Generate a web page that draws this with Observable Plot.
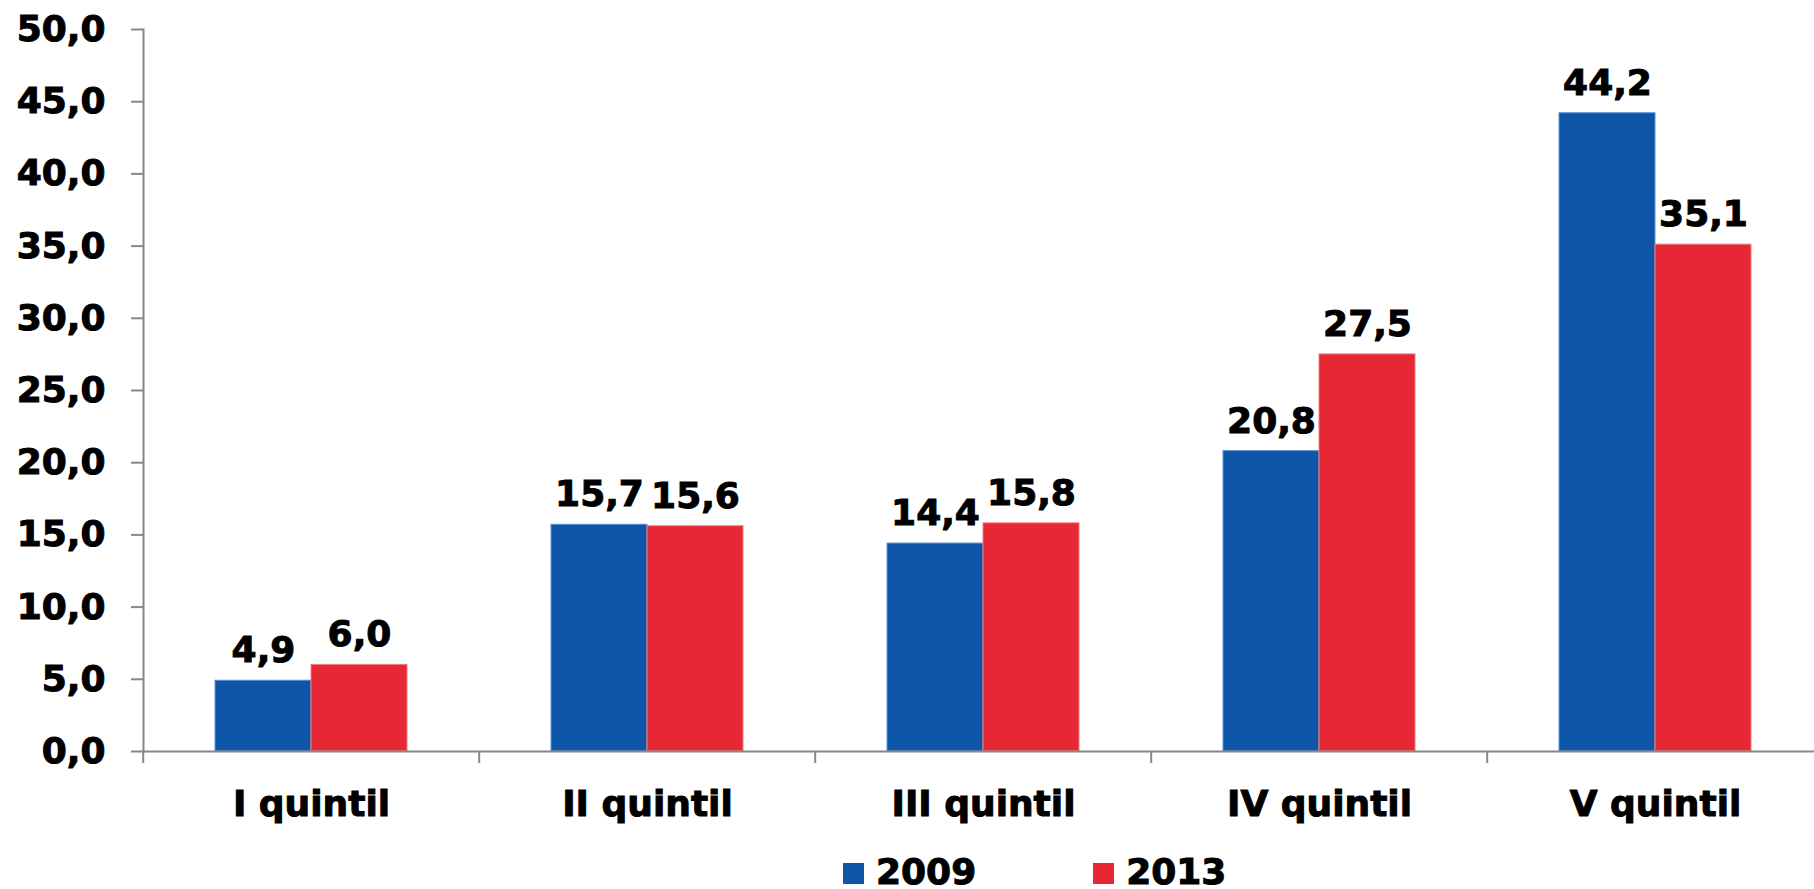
<!DOCTYPE html>
<html>
<head>
<meta charset="utf-8">
<script src="https://cdn.jsdelivr.net/npm/d3@7"></script>
<script src="https://cdn.jsdelivr.net/npm/@observablehq/plot@0.6"></script>
<style>
  html, body { margin: 0; padding: 0; overflow: hidden; background: #fff; }
  #chart svg { display: block; max-width: none !important; }
  #chart svg text { stroke: #000; stroke-width: 1px; }
  .legend { font-family: "DejaVu Sans", Verdana, sans-serif; font-weight: bold; font-size: 36px; line-height: 32px; color: #000; padding-left: 843px; padding-top: 4px; white-space: nowrap; -webkit-text-stroke: 1px #000; }
  .legend span.item { display: inline-block; margin-right: 117px; }
  .legend span.sw { display: inline-block; width: 21px; height: 21px; margin-right: 12px; vertical-align: baseline; -webkit-text-stroke: 0; }
</style>
</head>
<body>
<div id="chart"></div>
<div class="legend" id="legend"></div>
<script>
const categories = ["I quintil", "II quintil", "III quintil", "IV quintil", "V quintil"];
const years = ["2009", "2013"];
const values2009 = [4.9, 15.7, 14.4, 20.8, 44.2];
const values2013 = [6.0, 15.6, 15.8, 27.5, 35.1];
const yTicks = [0, 5, 10, 15, 20, 25, 30, 35, 40, 45, 50];
const colors = ["#0F56A8", "#E62734"];
const edgeColors = ["#5B8FD6", "#F27A83"];

const rows = [];
categories.forEach((c, i) => {
  rows.push({category: c, year: years[0], value: values2009[i]});
  rows.push({category: c, year: years[1], value: values2013[i]});
});

const W = 1824, H = 852, ML = 141, MR = 0, MT = 29, MB = 101;
const band = (W - ML - MR) / categories.length;
const fmt = v => v.toFixed(1).replace(".", ",");
const font = "DejaVu Sans, Verdana, sans-serif";
const gray = "#878787";

const plot = Plot.plot({
  width: W, height: H,
  marginLeft: ML, marginRight: MR, marginTop: MT, marginBottom: MB,
  style: {fontFamily: font, fontSize: "36px", fontWeight: "bold", color: "#000", background: "#fff", maxWidth: "none"},
  fx: {domain: categories, padding: 0, axis: null, label: null},
  x: {domain: years, paddingInner: 0, paddingOuter: 0.75, axis: null, label: null},
  y: {domain: [0, 50], axis: null, label: null},
  color: {domain: years, range: colors},
  marks: [
    Plot.barY(rows, {fx: "category", x: "year", y: "value", fill: "year",
      stroke: d => edgeColors[years.indexOf(d.year)], strokeWidth: 1}),
    Plot.text(rows, {fx: "category", x: "year", y: "value", text: d => fmt(d.value),
      dy: -30, fontSize: 36, fontWeight: "bold", fill: "#000"}),
    Plot.ruleY([0], {stroke: gray, strokeWidth: 2}),
    Plot.frame({anchor: "left", facetAnchor: "left", stroke: gray, strokeWidth: 2}),
    Plot.axisY({ticks: yTicks, tickSize: 12, tickPadding: 26, tickFormat: fmt, label: null,
      stroke: gray, strokeWidth: 2, fill: "#000", fontSize: 36, fontWeight: "bold"}),
    Plot.axisFx({anchor: "bottom", tickSize: 12, tickFormat: () => "", dx: -band / 2, label: null,
      stroke: gray, strokeWidth: 2}),
    Plot.axisFx({anchor: "bottom", tickSize: 0, tickPadding: 39, label: null,
      fill: "#000", fontSize: 36, fontWeight: "bold"})
  ]
});
document.getElementById("chart").appendChild(plot);

const legend = document.getElementById("legend");
years.forEach((y, i) => {
  const item = document.createElement("span");
  item.className = "item";
  const sw = document.createElement("span");
  sw.className = "sw";
  sw.style.background = colors[i];
  item.appendChild(sw);
  item.appendChild(document.createTextNode(y));
  legend.appendChild(item);
});
</script>
</body>
</html>
